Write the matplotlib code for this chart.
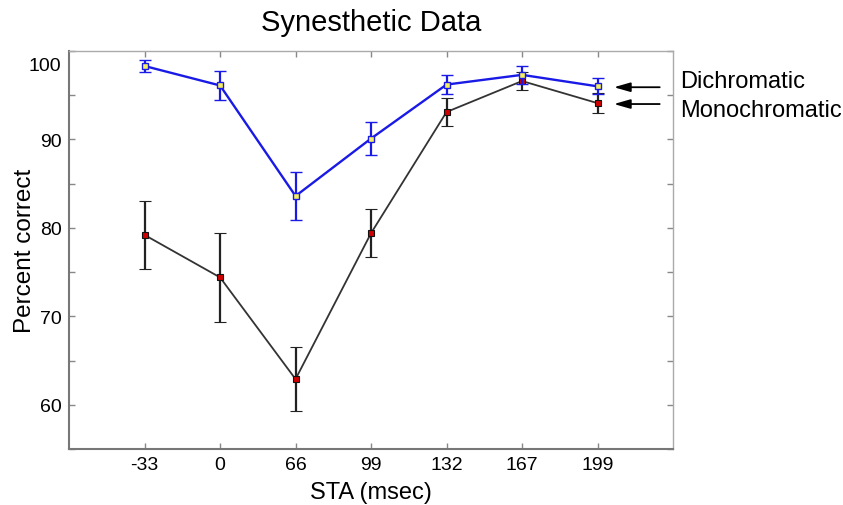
import matplotlib
matplotlib.use("Agg")
import matplotlib.pyplot as plt
from matplotlib.ticker import MultipleLocator
from matplotlib.transforms import blended_transform_factory

plt.rcParams['font.family'] = ['Liberation Sans', 'DejaVu Sans']

# data
sta_labels = ['-33', '0', '66', '99', '132', '167', '199']
dichromatic = [98.3, 96.1, 83.6, 90.1, 96.2, 97.3, 96.0]
dichromatic_err = [0.7, 1.6, 2.7, 1.9, 1.1, 1.0, 0.9]
monochromatic = [79.2, 74.4, 62.9, 79.4, 93.1, 96.6, 94.1]
monochromatic_err = [3.8, 5.0, 3.6, 2.7, 1.6, 1.0, 1.1]

x = list(range(1, len(sta_labels) + 1))

fig = plt.figure(figsize=(8.43, 5.06), dpi=100)
ax = fig.add_axes([0.0819, 0.1107, 0.7165, 0.7866])

ax.errorbar(x, monochromatic, yerr=monochromatic_err, color='#333333', lw=1.3,
            ecolor='#222222', elinewidth=1.6, capsize=4, capthick=1.6,
            marker='s', ms=5, mfc='#d00000', mec='#111111', mew=0.8, zorder=2)
ax.errorbar(x, dichromatic, yerr=dichromatic_err, color='#1a1ae6', lw=1.7,
            ecolor='#1a1ae6', elinewidth=1.6, capsize=4, capthick=1.6,
            marker='s', ms=4.5, mfc='#f4f060', mec='#1a1ae6', mew=1.0, zorder=3)

ax.set_xlim(0, 8)
ax.set_ylim(55, 100)
ax.set_xticks(x)
ax.set_xticklabels(sta_labels)
ax.set_yticks([60, 70, 80, 90, 100])
ax.set_yticklabels(['60', '70', '80', '90', ''])
ax.yaxis.set_minor_locator(MultipleLocator(5))
ax.tick_params(which='both', direction='in', top=True, right=True,
               length=4, width=1, color='#888888', labelsize=14, pad=5)
# the "100" label sits a little below the top edge in the original
trans = blended_transform_factory(ax.transAxes, ax.transData)
ax.text(-0.013, 98.4, '100', transform=trans, ha='right', va='center', fontsize=14)

for side in ['left', 'bottom']:
    ax.spines[side].set_color('#777777')
    ax.spines[side].set_linewidth(1.5)
for side in ['top', 'right']:
    ax.spines[side].set_color('#aaaaaa')
    ax.spines[side].set_linewidth(1.0)

ax.set_title('Synesthetic Data', fontsize=21, pad=15)
ax.set_xlabel('STA (msec)', fontsize=17, labelpad=6)
ax.set_ylabel('Percent correct', fontsize=17.5, labelpad=3)

# arrows pointing at the last points
for yv in (95.9, 94.0):
    ax.annotate('', xy=(7.18, yv), xytext=(7.86, yv),
                arrowprops=dict(arrowstyle='-|>,head_length=0.7,head_width=0.2',
                                color='black', lw=1.3, mutation_scale=14))
fig.text(680 / 843, 1 - 82 / 506, 'Dichromatic', fontsize=17, va='center', ha='left')
fig.text(680 / 843, 1 - 111 / 506, 'Monochromatic', fontsize=17, va='center', ha='left')

fig.savefig('out.png', dpi=100)
